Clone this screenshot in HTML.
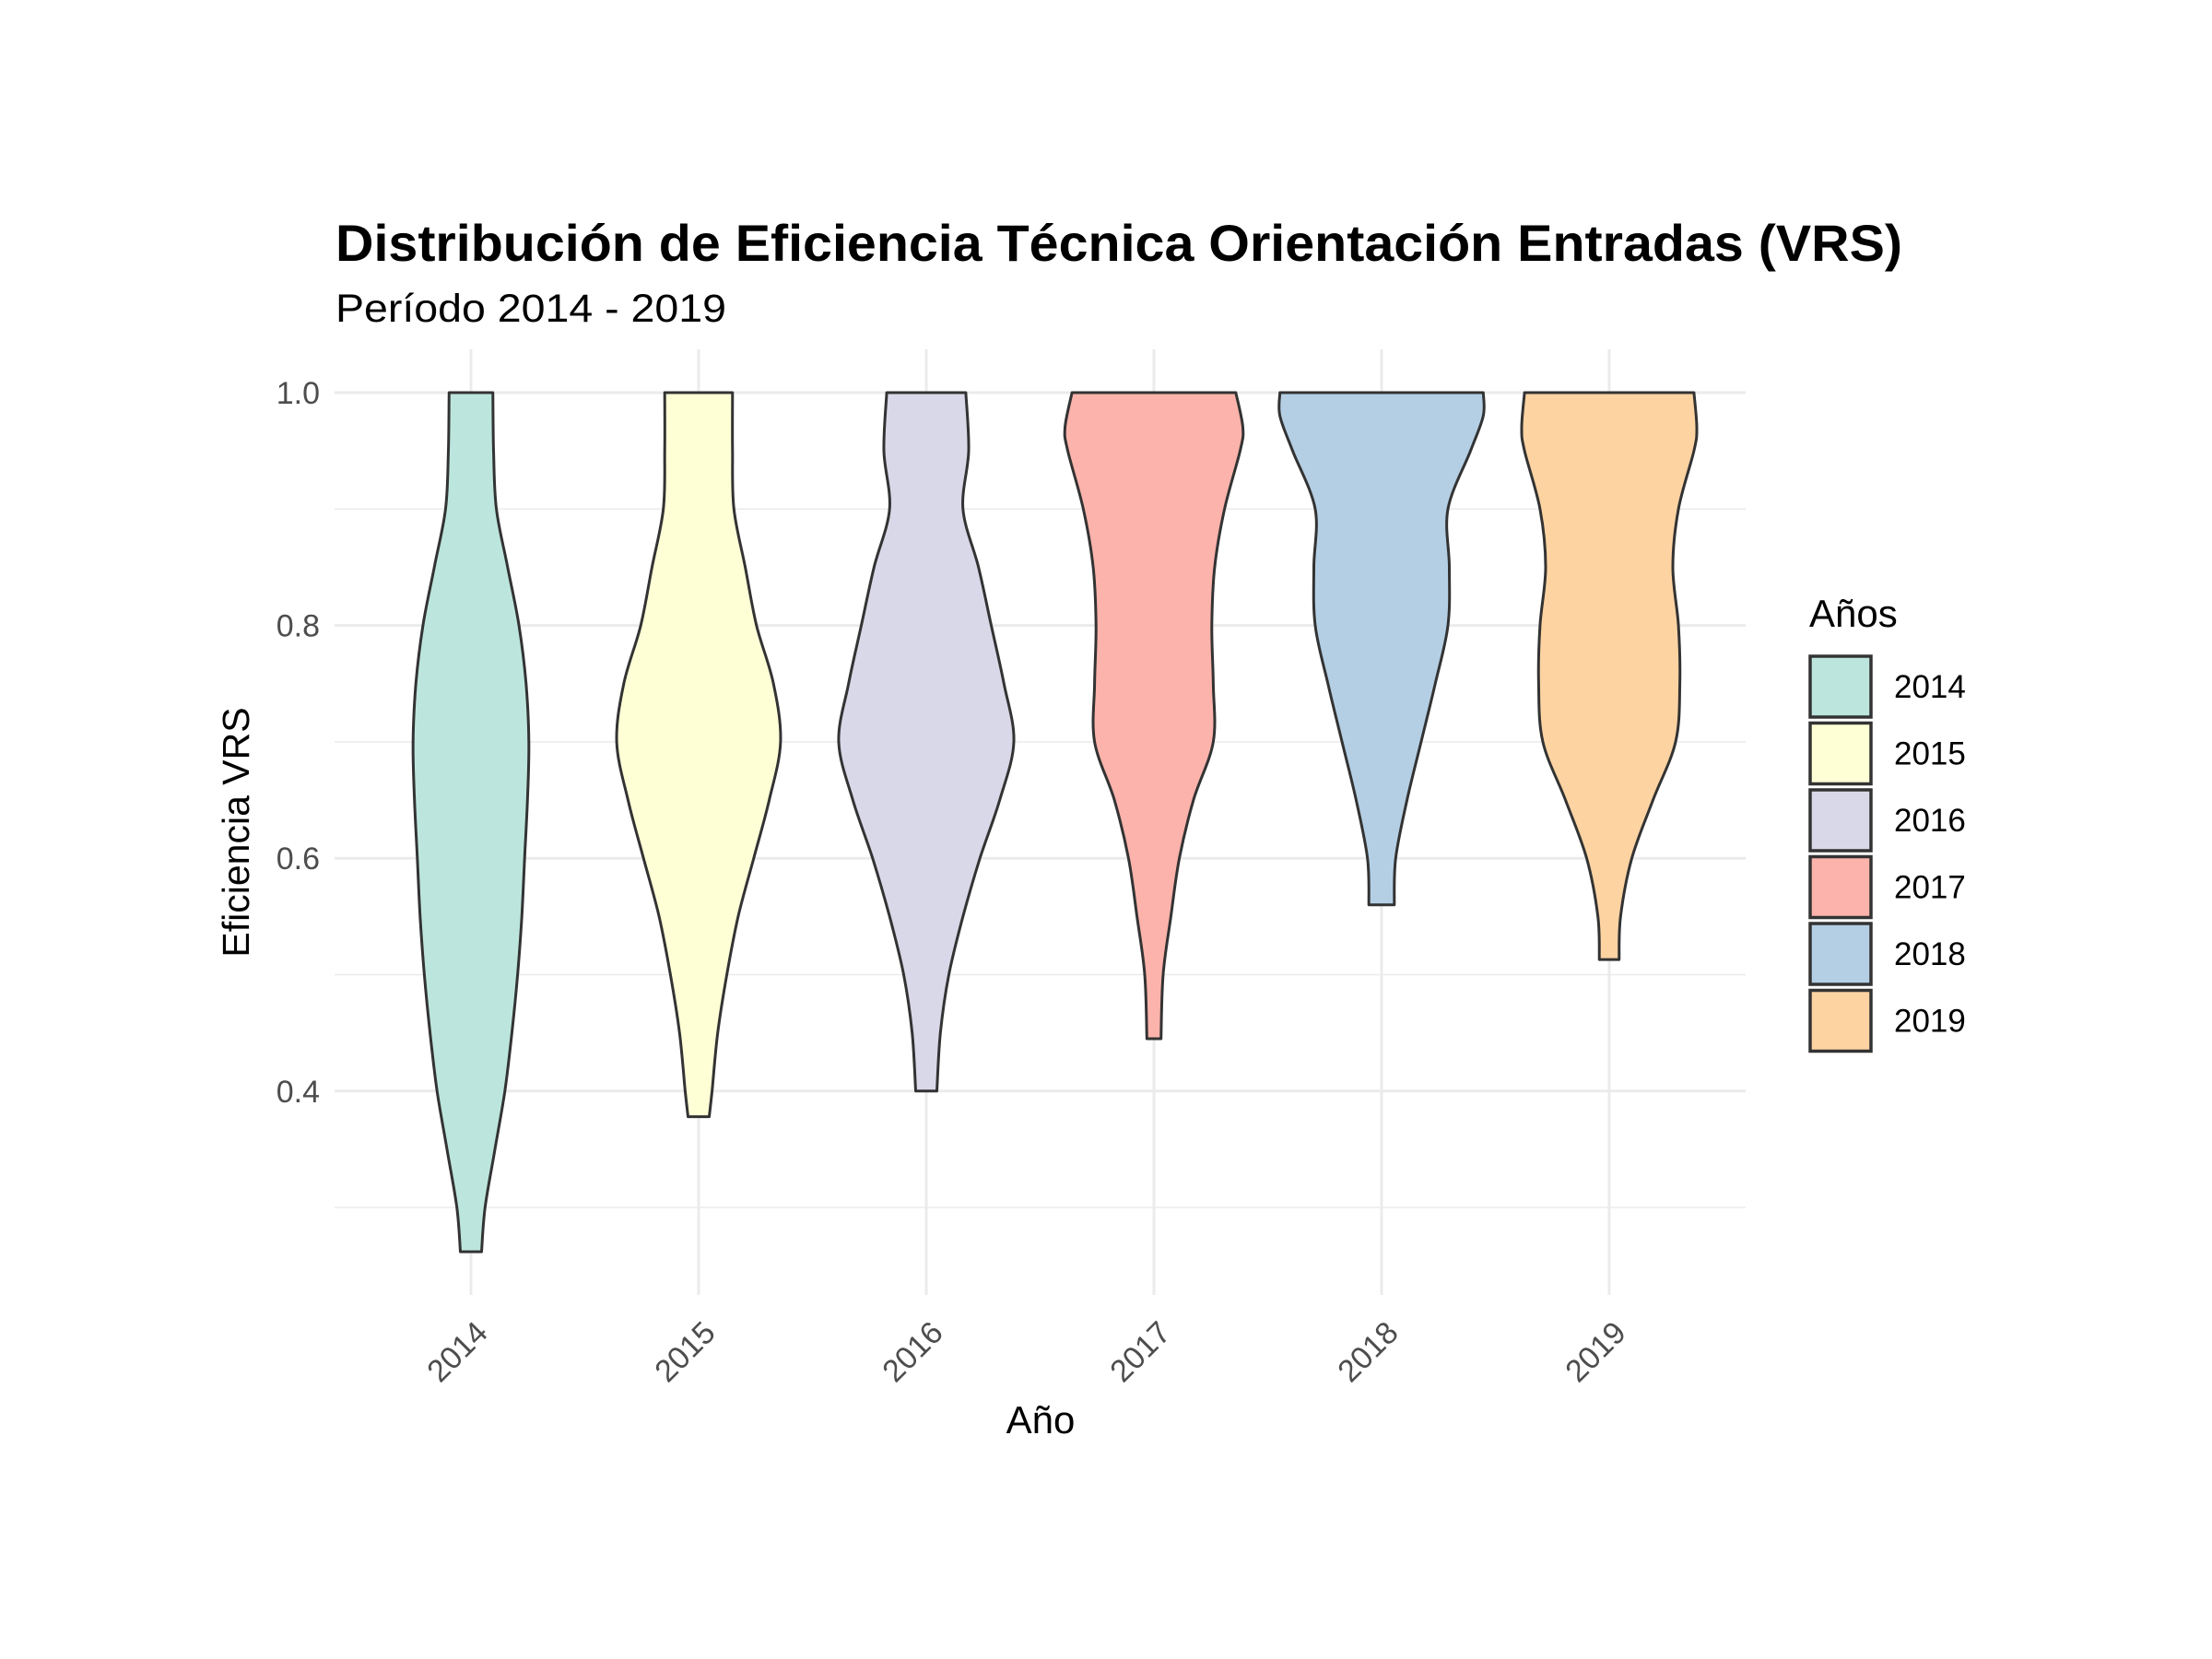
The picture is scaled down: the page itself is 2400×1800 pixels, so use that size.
<!DOCTYPE html>
<html><head><meta charset="utf-8"><style>
html,body{margin:0;padding:0;background:#fff;}
svg{display:block;font-family:"Liberation Sans",Arial,sans-serif;}
</style></head><body>
<svg id="chart" width="2400" height="1800" viewBox="0 0 2400 1800" xmlns="http://www.w3.org/2000/svg">
<rect width="2400" height="1800" fill="#fff"/>
<g id="grid"></g>
<g id="violins"></g>
<g id="axes"></g>
<text x="364" y="283" font-size="56" font-weight="bold" fill="#000" textLength="1700" lengthAdjust="spacingAndGlyphs">Distribución de Eficiencia Técnica Orientación Entradas (VRS)</text>
<text x="364" y="349" font-size="43" fill="#000" textLength="424" lengthAdjust="spacingAndGlyphs">Período 2014 - 2019</text>
<text transform="translate(270,903) rotate(-90)" text-anchor="middle" font-size="41" fill="#000">Eficiencia VRS</text>
<text x="1129" y="1555" text-anchor="middle" font-size="42" fill="#000">Año</text>
<g id="legend">
<text x="1963" y="680" font-size="42" fill="#000">Años</text>
</g>
</svg>
<script>
const categories = ["2014","2015","2016","2017","2018","2019"];
const colors = ["#bce6dd","#ffffd6","#d9d8e9","#fbb3ab","#b4cfe4","#fdd3a2"];
const levels2014 = [1,0.95,0.9,0.85,0.8,0.75,0.7,0.65,0.6,0.55,0.5,0.45,0.4,0.35,0.3,0.262];
const widths2014 = [15.5,16,18,26,34,39,41,40,38,36,33,29,24,17,10,7.5];
const levels2015 = [1,0.95,0.9,0.85,0.8,0.75,0.7,0.65,0.6,0.55,0.5,0.45,0.4,0.378];
const widths2015 = [24,24,25,33,41,53,58,50,39,28,20,13.5,9.5,7.5];
const levels2016 = [1,0.95,0.9,0.85,0.8,0.75,0.7,0.65,0.6,0.55,0.5,0.45,0.4];
const widths2016 = [28,30,26,37,46,55,62,52,38,26,16,10,7.5];
const levels2017 = [1,0.97,0.95,0.9,0.85,0.8,0.75,0.7,0.65,0.6,0.55,0.5,0.445];
const widths2017 = [58,63,61,50,43,41,42,42,28,18,12,6.5,5];
const levels2018 = [1,0.98,0.95,0.9,0.85,0.8,0.75,0.7,0.65,0.6,0.56];
const widths2018 = [72,72,63,47,48,47,38,28,18,10,9];
const levels2019 = [1,0.97,0.95,0.9,0.85,0.8,0.75,0.7,0.65,0.6,0.55,0.513];
const widths2019 = [60,62,60,49,45,49,50,47,31,16,8,7];
const yTicks = [0.4,0.6,0.8,1.0];
const yTickLabels = ["0.4","0.6","0.8","1.0"];
const yMinor = [0.3,0.5,0.7,0.9];

const allLevels=[levels2014,levels2015,levels2016,levels2017,levels2018,levels2019];
const allWidths=[widths2014,widths2015,widths2016,widths2017,widths2018,widths2019];
const NS="http://www.w3.org/2000/svg";
const panel={left:363,right:1894,top:379,bottom:1405};
function yScale(v){return 426+(1-v)*1263;}
function xScale(i){return 511+i*247;}
function wScale(d){return d*247/161.2;}
function mk(tag,attrs,parent){const e=document.createElementNS(NS,tag);for(const k in attrs)e.setAttribute(k,attrs[k]);parent.appendChild(e);return e;}
const grid=document.getElementById('grid'),axes=document.getElementById('axes'),vg=document.getElementById('violins'),lg=document.getElementById('legend');
yMinor.forEach(v=>{const l=mk('line',{x1:panel.left,x2:panel.right,y1:yScale(v),y2:yScale(v),stroke:'#ebebeb','stroke-width':1.5},grid);

});
yTicks.forEach((v,i)=>{const l=mk('line',{x1:panel.left,x2:panel.right,y1:yScale(v),y2:yScale(v),stroke:'#ebebeb','stroke-width':3},grid);


const t=mk('text',{x:347,y:yScale(v)+12,'text-anchor':'end','font-size':34,fill:'#4d4d4d'},axes);t.textContent=yTickLabels[i];

});
categories.forEach((c,i)=>{const x=xScale(i);
const l=mk('line',{x1:x,x2:x,y1:panel.top,y2:panel.bottom,stroke:'#ebebeb','stroke-width':3},grid);


const t=mk('text',{transform:`translate(${x+20},${1448}) rotate(-45)`,'text-anchor':'end','font-size':34,fill:'#4d4d4d'},axes);t.textContent=c;


const lv=allLevels[i],wd=allWidths[i];
const right=lv.map((v,k)=>[x+wScale(wd[k]),yScale(v)]);
const left=lv.map((v,k)=>[x-wScale(wd[k]),yScale(v)]).reverse();
function smooth(pts){let d='';for(let k=0;k<pts.length-1;k++){const p0=pts[Math.max(k-1,0)],p1=pts[k],p2=pts[k+1],p3=pts[Math.min(k+2,pts.length-1)];
const c1=[p1[0]+(p2[0]-p0[0])/6,p1[1]+(p2[1]-p0[1])/6],c2=[p2[0]-(p3[0]-p1[0])/6,p2[1]-(p3[1]-p1[1])/6];
d+=` C${c1[0].toFixed(1)},${c1[1].toFixed(1)} ${c2[0].toFixed(1)},${c2[1].toFixed(1)} ${p2[0].toFixed(1)},${p2[1].toFixed(1)}`;}return d;}
let d=`M${left[left.length-1][0]},${left[left.length-1][1]} L${right[0][0]},${right[0][1]}`+smooth(right)+` L${left[0][0]},${left[0][1]}`+smooth(left)+'Z';
const p=mk('path',{d:d,fill:colors[i],stroke:'#333333','stroke-width':3,'stroke-linejoin':'round'},vg);


const ky=712+i*72.5;
const r=mk('rect',{x:1964,y:ky,width:66,height:66,fill:colors[i],stroke:'#333333','stroke-width':3.5},lg);


const lt=mk('text',{x:2055,y:ky+45,'font-size':35,fill:'#000'},lg);lt.textContent=c;


});
</script>
</body></html>
